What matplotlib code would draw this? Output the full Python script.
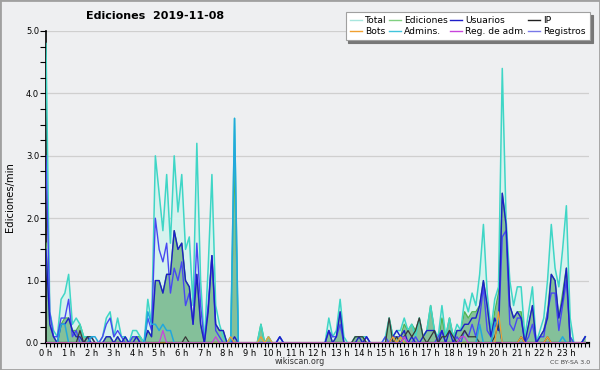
import numpy as np
import matplotlib
matplotlib.use("Agg")
import matplotlib.pyplot as plt
from matplotlib.patches import Rectangle
from matplotlib.lines import Line2D

# 10-minute bins (edits per minute), 144 values
total = [
    4.8, 0.5, 0.2, 0.1, 0.7, 0.8,
    1.1, 0.3, 0.4, 0.3, 0.1, 0.1,
    0.1, 0.0, 0.0, 0.1, 0.4, 0.5,
    0.1, 0.4, 0.1, 0.1, 0.0, 0.2,
    0.2, 0.1, 0.0, 0.7, 0.3, 3.0,
    2.4, 1.8, 2.7, 1.6, 3.0, 2.1,
    2.7, 1.5, 1.7, 0.6, 3.2, 1.0,
    0.0, 1.2, 2.7, 0.6, 0.3, 0.1,
    0.0, 0.1, 3.6, 0.0, 0.0, 0.0,
    0.0, 0.0, 0.0, 0.3, 0.0, 0.1,
    0.0, 0.0, 0.1, 0.0, 0.0, 0.0,
    0.0, 0.0, 0.0, 0.0, 0.0, 0.0,
    0.0, 0.0, 0.0, 0.4, 0.1, 0.2,
    0.7, 0.1, 0.0, 0.0, 0.1, 0.1,
    0.1, 0.1, 0.0, 0.0, 0.0, 0.0,
    0.1, 0.4, 0.1, 0.2, 0.2, 0.4,
    0.2, 0.3, 0.1, 0.4, 0.1, 0.2,
    0.6, 0.2, 0.1, 0.6, 0.1, 0.4,
    0.1, 0.3, 0.2, 0.7, 0.5, 0.8,
    0.6, 1.1, 1.9, 0.8, 0.2, 0.7,
    0.9, 4.4, 2.0, 1.0, 0.6, 0.9,
    0.9, 0.1, 0.5, 0.9, 0.0, 0.2,
    0.4, 1.0, 1.9, 1.2, 0.9, 1.5,
    2.2, 0.4, 0.0, 0.0, 0.0, 0.1,
]
ediciones = [
    1.6, 0.3, 0.1, 0.0, 0.3, 0.4,
    0.4, 0.2, 0.2, 0.3, 0.1, 0.1,
    0.0, 0.0, 0.0, 0.0, 0.1, 0.1,
    0.0, 0.1, 0.0, 0.1, 0.0, 0.1,
    0.1, 0.1, 0.0, 0.2, 0.1, 1.0,
    1.0, 0.8, 1.1, 1.1, 1.8, 1.5,
    1.6, 1.0, 0.9, 0.3, 1.1, 0.3,
    0.0, 0.5, 1.4, 0.3, 0.2, 0.2,
    0.0, 0.1, 3.0, 0.0, 0.0, 0.0,
    0.0, 0.0, 0.0, 0.3, 0.0, 0.1,
    0.0, 0.0, 0.0, 0.0, 0.0, 0.0,
    0.0, 0.0, 0.0, 0.0, 0.0, 0.0,
    0.0, 0.0, 0.0, 0.2, 0.0, 0.1,
    0.5, 0.0, 0.0, 0.0, 0.1, 0.1,
    0.1, 0.0, 0.0, 0.0, 0.0, 0.0,
    0.0, 0.4, 0.1, 0.1, 0.1, 0.3,
    0.2, 0.3, 0.2, 0.4, 0.1, 0.2,
    0.6, 0.2, 0.0, 0.4, 0.1, 0.4,
    0.1, 0.2, 0.2, 0.5, 0.4, 0.5,
    0.5, 0.6, 1.0, 0.6, 0.1, 0.5,
    0.8, 2.4, 1.9, 0.6, 0.4, 0.5,
    0.5, 0.0, 0.3, 0.6, 0.0, 0.1,
    0.2, 0.5, 1.1, 1.0, 0.4, 0.8,
    1.2, 0.1, 0.0, 0.0, 0.0, 0.1,
]
usuarios = [
    1.5, 0.3, 0.1, 0.0, 0.3, 0.3,
    0.4, 0.2, 0.1, 0.1, 0.0, 0.1,
    0.0, 0.0, 0.0, 0.0, 0.1, 0.1,
    0.0, 0.1, 0.0, 0.1, 0.0, 0.0,
    0.1, 0.0, 0.0, 0.2, 0.1, 1.0,
    1.0, 0.8, 1.1, 1.1, 1.8, 1.5,
    1.6, 1.0, 0.9, 0.3, 1.1, 0.3,
    0.0, 0.5, 1.4, 0.3, 0.2, 0.2,
    0.0, 0.0, 0.1, 0.0, 0.0, 0.0,
    0.0, 0.0, 0.0, 0.0, 0.0, 0.0,
    0.0, 0.0, 0.1, 0.0, 0.0, 0.0,
    0.0, 0.0, 0.0, 0.0, 0.0, 0.0,
    0.0, 0.0, 0.0, 0.2, 0.0, 0.1,
    0.5, 0.0, 0.0, 0.0, 0.0, 0.1,
    0.0, 0.1, 0.0, 0.0, 0.0, 0.0,
    0.0, 0.0, 0.1, 0.2, 0.1, 0.2,
    0.0, 0.1, 0.0, 0.0, 0.1, 0.2,
    0.2, 0.2, 0.0, 0.2, 0.0, 0.2,
    0.0, 0.2, 0.2, 0.3, 0.3, 0.4,
    0.4, 0.6, 1.0, 0.6, 0.1, 0.4,
    0.2, 2.4, 1.9, 0.6, 0.4, 0.5,
    0.4, 0.0, 0.3, 0.6, 0.0, 0.1,
    0.2, 0.4, 1.1, 1.0, 0.4, 0.7,
    1.2, 0.0, 0.0, 0.0, 0.0, 0.1,
]
registros = [
    3.0, 0.5, 0.1, 0.1, 0.4, 0.4,
    0.7, 0.1, 0.2, 0.0, 0.0, 0.0,
    0.1, 0.0, 0.0, 0.1, 0.3, 0.4,
    0.1, 0.2, 0.1, 0.0, 0.0, 0.1,
    0.1, 0.0, 0.0, 0.4, 0.2, 2.0,
    1.5, 1.3, 1.6, 0.8, 1.2, 1.0,
    1.3, 0.6, 0.8, 0.3, 1.6, 0.6,
    0.0, 0.6, 1.4, 0.2, 0.1, 0.0,
    0.0, 0.0, 0.0, 0.0, 0.0, 0.0,
    0.0, 0.0, 0.0, 0.0, 0.0, 0.0,
    0.0, 0.0, 0.1, 0.0, 0.0, 0.0,
    0.0, 0.0, 0.0, 0.0, 0.0, 0.0,
    0.0, 0.0, 0.0, 0.2, 0.1, 0.1,
    0.3, 0.0, 0.0, 0.0, 0.0, 0.0,
    0.0, 0.1, 0.0, 0.0, 0.0, 0.0,
    0.1, 0.0, 0.1, 0.1, 0.1, 0.1,
    0.0, 0.0, 0.1, 0.0, 0.0, 0.0,
    0.0, 0.0, 0.1, 0.2, 0.0, 0.0,
    0.0, 0.1, 0.0, 0.2, 0.1, 0.3,
    0.1, 0.4, 0.9, 0.2, 0.1, 0.3,
    0.2, 1.7, 1.8, 0.3, 0.2, 0.4,
    0.4, 0.0, 0.1, 0.3, 0.0, 0.1,
    0.1, 0.5, 0.8, 0.8, 0.2, 0.6,
    1.0, 0.1, 0.0, 0.0, 0.0, 0.1,
]
ip = [
    0.0, 0.0, 0.0, 0.0, 0.0, 0.0,
    0.0, 0.0, 0.0, 0.2, 0.0, 0.1,
    0.1, 0.0, 0.0, 0.0, 0.0, 0.0,
    0.0, 0.0, 0.0, 0.0, 0.0, 0.0,
    0.0, 0.0, 0.0, 0.0, 0.0, 0.0,
    0.0, 0.0, 0.0, 0.0, 0.0, 0.0,
    0.0, 0.1, 0.0, 0.0, 0.0, 0.0,
    0.0, 0.0, 0.0, 0.0, 0.0, 0.0,
    0.0, 0.0, 0.0, 0.0, 0.0, 0.0,
    0.0, 0.0, 0.0, 0.0, 0.0, 0.0,
    0.0, 0.0, 0.0, 0.0, 0.0, 0.0,
    0.0, 0.0, 0.0, 0.0, 0.0, 0.0,
    0.0, 0.0, 0.0, 0.0, 0.0, 0.0,
    0.0, 0.0, 0.0, 0.0, 0.1, 0.1,
    0.1, 0.0, 0.0, 0.0, 0.0, 0.0,
    0.0, 0.4, 0.0, 0.1, 0.0, 0.1,
    0.2, 0.1, 0.2, 0.4, 0.1, 0.0,
    0.1, 0.2, 0.0, 0.1, 0.1, 0.2,
    0.1, 0.0, 0.1, 0.2, 0.1, 0.1,
    0.1, 0.0, 0.0, 0.0, 0.0, 0.1,
    0.3, 0.0, 0.0, 0.0, 0.0, 0.0,
    0.1, 0.0, 0.0, 0.0, 0.0, 0.0,
    0.0, 0.1, 0.0, 0.0, 0.0, 0.0,
    0.0, 0.0, 0.0, 0.0, 0.0, 0.0,
]
admins = [0.0] * 144
admins_points = {4: 0.3, 5: 0.3, 12: 0.1, 13: 0.1, 27: 0.5, 28: 0.3, 29: 0.3,
                 30: 0.2, 31: 0.3, 32: 0.2, 33: 0.2, 50: 3.6, 115: 0.3,
                 119: 0.3, 120: 0.4, 137: 0.1}
bots = [0.0] * 144
bots_points = {49: 0.1, 57: 0.1, 59: 0.1, 92: 0.1, 94: 0.1, 120: 0.5,
               126: 0.1, 133: 0.1}
regadm = [0.0] * 144
regadm_points = {31: 0.2, 45: 0.1, 95: 0.1, 110: 0.1, 111: 0.1}
for k, v in admins_points.items():
    admins[k] = v
for k, v in bots_points.items():
    bots[k] = v
for k, v in regadm_points.items():
    regadm[k] = v

hour_labels = [f"{h} h" for h in range(24)]
legend_labels = ["Total", "Bots", "Ediciones", "Admins.", "Usuarios",
                 "Reg. de adm.", "IP", "Registros"]

x = np.arange(144) / 6.0

BG = "#eeeff1"
fig = plt.figure(figsize=(6.0, 3.7), dpi=100, facecolor=BG)
ax = fig.add_axes([46 / 600, 27 / 370, 543 / 600, 312 / 370], facecolor=BG)

c_total_fill = "#d6f2ee"
c_total = "#3fd6c6"
c_edic_fill = "#84c09a"
c_edic = "#52b452"
c_usu = "#1e1ec8"
c_reg = "#4848f2"
c_ip = "#383838"
c_adm = "#22a8dc"
c_bots = "#f0a030"
c_regadm = "#c844dc"

ax.fill_between(x, total, color=c_total_fill, lw=0, zorder=1)
ax.fill_between(x, ediciones, color=c_edic_fill, lw=0, zorder=2)
ax.plot(x, ediciones, color=c_edic, lw=1.0, zorder=3)
ax.plot(x, total, color=c_total, lw=1.1, zorder=4)
ax.plot(x, registros, color=c_reg, lw=1.0, zorder=5)
ax.plot(x, usuarios, color=c_usu, lw=1.0, zorder=6)
ax.plot(x, ip, color=c_ip, lw=0.9, zorder=6)
ax.plot(x, admins, color=c_adm, lw=1.1, zorder=7)
ax.plot(x, bots, color=c_bots, lw=0.9, zorder=7)
ax.plot(x, regadm, color=c_regadm, lw=0.9, zorder=7)

ax.set_xlim(0, 24)
ax.set_ylim(0, 5.0)
ax.set_yticks(np.arange(0, 5.01, 1.0))
ax.set_yticklabels([f"{v:.1f}" for v in np.arange(0, 5.01, 1.0)], fontsize=6)
ax.set_yticks(np.arange(0, 5.01, 0.25), minor=True)
ax.set_xticks(np.arange(24))
ax.set_xticklabels(hour_labels, fontsize=6)
ax.set_xticks(np.arange(0, 24.01, 1 / 6), minor=True)
ax.tick_params(axis="y", which="both", length=4, width=0.8, pad=1, colors="black")
ax.tick_params(axis="x", which="both", length=3, width=0.8, pad=1, colors="black")
ax.grid(axis="y", which="major", color="#cfcfcf", lw=0.9, zorder=0)
ax.set_axisbelow(True)
for s in ["top", "right"]:
    ax.spines[s].set_visible(False)
ax.spines["left"].set_linewidth(1.2)
ax.spines["bottom"].set_linewidth(1.6)

fig.text(10 / 600, 1 - 197 / 370, "Ediciones/min", fontsize=7.2,
         rotation=90, ha="center", va="center")
fig.text(155 / 600, 1 - 16 / 370, "Ediciones  2019-11-08", fontsize=8,
         fontweight="bold", ha="center", va="center")
fig.text(300 / 600, 1 - 361 / 370, "wikiscan.org", fontsize=5.8,
         ha="center", va="center", color="#333333")
fig.text(590 / 600, 1 - 362 / 370, "CC BY-SA 3.0", fontsize=4.5,
         ha="right", va="center", color="#444444")

handle_colors = ["#a8e6de", c_bots, "#80d080", "#40c4dc", c_usu,
                 c_regadm, "#202020", "#7878e8"]
handles = [Line2D([0], [0], color=c, lw=1.0) for c in handle_colors]
leg = fig.legend(handles, legend_labels, ncol=4, loc="upper right",
                 bbox_to_anchor=(590 / 600, 1 - 12 / 370), fontsize=6.6,
                 frameon=True, fancybox=False,
                 shadow={"color": "#777777", "alpha": 1.0},
                 handlelength=1.3, handletextpad=0.35, columnspacing=0.25,
                 labelspacing=0.2, borderpad=0.45, borderaxespad=0)
leg.get_frame().set_edgecolor("#a0a0a0")
leg.get_frame().set_linewidth(0.8)
leg.get_frame().set_facecolor("white")

fig.patches.append(Rectangle((0, 0), 1, 1, transform=fig.transFigure,
                             fill=False, edgecolor="#a0a0a0", lw=2))

fig.savefig("out.png", dpi=100, facecolor=BG)
